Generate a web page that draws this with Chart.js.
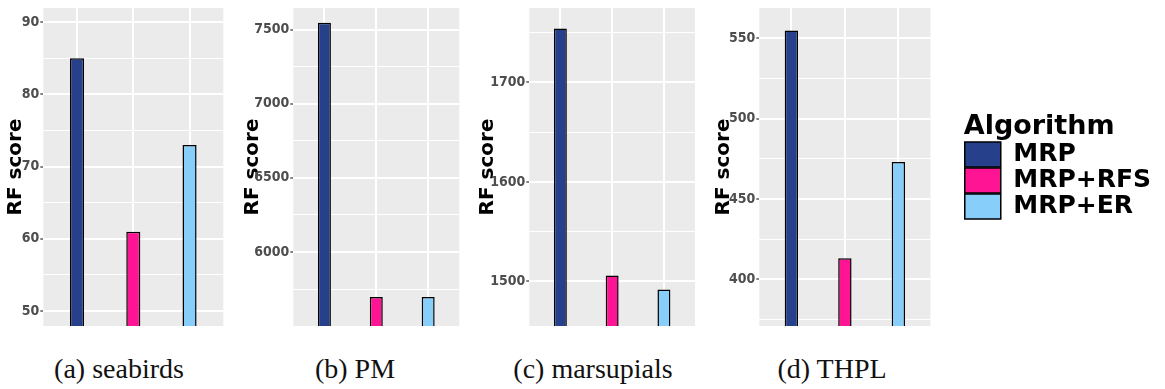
<!DOCTYPE html>
<html>
<head>
<meta charset="utf-8">
<title>RF score by algorithm</title>
<script src="https://cdn.jsdelivr.net/npm/chart.js@4/dist/chart.umd.min.js"></script>
<style>
  html, body { margin: 0; padding: 0; background: #fff; }
  body { position: relative; width: 1165px; height: 389px; overflow: hidden; }
  .panel { position: absolute; top: 0; }
  .caption {
    position: absolute; top: 355px; transform: translateX(-50%);
    font-family: 'Liberation Serif', 'DejaVu Serif', serif; font-size: 28px; line-height: 28px;
    color: #111; white-space: nowrap;
  }
</style>
</head>
<body>
<script>
// Algorithms compared in every panel, with their fill colours
const algorithms = ['MRP', 'MRP+RFS', 'MRP+ER'];
const algorithmColors = ['#27408B', '#FF1493', '#87CEFA'];

// RF score of each algorithm, one array per data set
const seabirdsScores   = [85, 61, 73];
const pmScores         = [7545, 5697, 5697];
const marsupialsScores = [1754, 1506, 1492];
const thplScores       = [555, 413, 473];

// Sub-figure captions
const captions = ['(a) seabirds', '(b) PM', '(c) marsupials', '(d) THPL'];

// Visible y range of each panel and the spacing of labelled ticks
const yLimits = [[47.93, 91.97], [5501, 7645], [1455.3, 1774.6], [370.8, 569.0]];
const majorSteps = [10, 500, 100, 50];

const panelScores = [seabirdsScores, pmScores, marsupialsScores, thplScores];

// Page geometry of each panel (canvas box, plot box, axis title centre, caption centre)
const frames = [
  { left: 0,   width: 226, plotLeft: 43.3,  plotRight: 223.3, titleX: 15.5,  captionX: 119 },
  { left: 226, width: 236, plotLeft: 293.3, plotRight: 459.3, titleX: 252.5, captionX: 355 },
  { left: 462, width: 236, plotLeft: 529.3, plotRight: 695,   titleX: 488,   captionX: 593 },
  { left: 698, width: 463, plotLeft: 759.3, plotRight: 931.7, titleX: 724,   captionX: 832, legendLeft: 965 }
];
const PLOT_TOP = 7, PLOT_BOTTOM = 326, CANVAS_H = 335;

// Grey panel background behind the grid
const panelBackground = {
  id: 'panelBackground',
  beforeDraw(chart) {
    const { ctx, chartArea: a } = chart;
    ctx.save();
    ctx.fillStyle = '#EBEBEB';
    ctx.fillRect(a.left, a.top, a.right - a.left, a.bottom - a.top);
    ctx.restore();
  }
};

const titleFont = { family: "'DejaVu Sans', sans-serif", weight: 'bold', size: 20, lineHeight: 1.2 };
const tickFont = { family: "'Liberation Sans Narrow', 'DejaVu Sans Condensed', 'Liberation Sans', sans-serif", weight: 'bold', size: 14, lineHeight: 1 };

panelScores.forEach((scores, p) => {
  const f = frames[p];
  const major = majorSteps[p];
  const minor = major / 2;
  const isMajor = (v) => Math.abs(v / major - Math.round(v / major)) < 1e-6;
  const hasLegend = f.legendLeft !== undefined;

  const canvas = document.createElement('canvas');
  canvas.className = 'panel';
  canvas.width = f.width;
  canvas.height = CANVAS_H;
  canvas.style.left = f.left + 'px';
  canvas.style.width = f.width + 'px';
  canvas.style.height = CANVAS_H + 'px';
  document.body.appendChild(canvas);

  const scales = {
    x: {
      type: 'linear',
      min: 0.4,
      max: algorithms.length + 0.6,
      offset: false,
      ticks: { display: false, stepSize: 1, includeBounds: false },
      grid: { color: '#FFFFFF', lineWidth: 2, drawTicks: false, offset: false },
      border: { display: false }
    },
    y: {
      type: 'linear',
      position: 'left',
      min: yLimits[p][0],
      max: yLimits[p][1],
      afterFit: (s) => { s.width = f.plotLeft - f.left; },
      ticks: {
        stepSize: minor,
        includeBounds: false,
        autoSkip: false,
        padding: 1,
        color: '#4D4D4D',
        font: tickFont,
        callback: (v) => (isMajor(v) ? String(v) : '')
      },
      grid: {
        color: '#FFFFFF',
        lineWidth: (c) => (c.tick && !isMajor(c.tick.value) ? 1 : 2),
        tickLength: 3,
        tickWidth: 1.2,
        tickColor: (c) => (c.tick && isMajor(c.tick.value) ? '#333333' : 'rgba(0,0,0,0)')
      },
      border: { display: false },
      title: {
        display: true,
        text: 'RF score',
        color: '#000',
        font: titleFont,
        padding: { top: f.titleX - f.left - titleFont.size * titleFont.lineHeight / 2, bottom: 0 }
      }
    }
  };

  if (hasLegend) {
    // empty right-hand axis that keeps the legend clear of the plot
    scales.gap = {
      type: 'linear',
      axis: 'y',
      position: 'right',
      display: true,
      afterFit: (s) => { s.width = f.legendLeft - f.plotRight; },
      ticks: { display: false },
      grid: { display: false, drawTicks: false },
      border: { display: false }
    };
  }

  new Chart(canvas, {
    type: 'bar',
    data: {
      datasets: algorithms.map((name, i) => ({
        label: name,
        data: [{ x: i + 1, y: scores[i] }],
        backgroundColor: algorithmColors[i],
        borderColor: '#000000',
        borderWidth: 1.5,
        grouped: false,
        categoryPercentage: 1,
        barPercentage: 0.25
      }))
    },
    options: {
      responsive: false,
      animation: false,
      devicePixelRatio: 1,
      layout: {
        padding: {
          left: 0,
          top: PLOT_TOP,
          bottom: CANVAS_H - PLOT_BOTTOM,
          right: hasLegend ? 0 : f.left + f.width - f.plotRight
        }
      },
      plugins: {
        tooltip: { enabled: false },
        legend: hasLegend ? {
          display: true,
          position: 'right',
          align: 'center',
          maxWidth: 400,
          title: {
            display: true,
            text: 'Algorithm',
            position: 'start',
            color: '#000',
            font: { family: "'DejaVu Sans', sans-serif", weight: 'bold', size: 27, lineHeight: '20px' },
            padding: { top: 0, bottom: 8 }
          },
          labels: {
            boxWidth: 36,
            boxHeight: 25,
            padding: 1,
            color: '#000',
            font: { family: "'DejaVu Sans', sans-serif", weight: 'bold', size: 25 }
          }
        } : { display: false }
      },
      scales
    },
    plugins: [panelBackground]
  });

  const cap = document.createElement('div');
  cap.className = 'caption';
  cap.style.left = f.captionX + 'px';
  cap.textContent = captions[p];
  document.body.appendChild(cap);
});
</script>
</body>
</html>
